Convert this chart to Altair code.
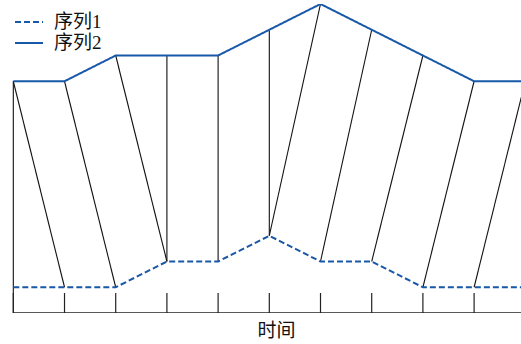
import altair as alt
import pandas as pd

# time steps and the two series
steps = list(range(11))
series1 = [1, 1, 1, 2, 2, 3, 2, 2, 1, 1, 1]
series2 = [9, 9, 10, 10, 10, 11, 12, 11, 10, 9, 9]
names = ["序列1", "序列2"]

# alignment path: (index in 序列2, index in 序列1)
path = [(0, 1), (1, 2), (2, 3), (3, 3), (4, 4), (5, 5),
        (6, 5), (7, 6), (8, 7), (9, 8), (10, 9)]

BLUE = "#1858a8"
FONT = "Liberation Serif, Noto Sans CJK SC"

lines = pd.DataFrame(
    [{"x": t, "v": v, "s": names[0]} for t, v in zip(steps, series1)]
    + [{"x": t, "v": v, "s": names[1]} for t, v in zip(steps, series2)]
)
links = pd.DataFrame(
    [{"x": j, "v": series2[j], "x2": i, "v2": series1[i]} for j, i in path]
    + [{"x": 0, "v": series2[0], "x2": 0, "v2": 0}]
)
ticks = pd.DataFrame({"x": steps, "v": [0] * len(steps)})
base = pd.DataFrame({"x": [steps[0]], "x2": [steps[-1]], "v": [0]})

xs = alt.Scale(domain=[-0.26, 9.916], nice=False, zero=False)
ys = alt.Scale(domain=[0, 12], nice=False, zero=False)
xaxis = alt.Axis(domain=False, ticks=False, labels=False, grid=False,
                 title="时间", titleFont=FONT, titleFontSize=19,
                 titleFontWeight="normal", titleColor="#111",
                 titleX=276, titleY=23, titleBaseline="alphabetic",
                 titleAnchor="middle", titleAlign="center")
X = alt.X("x:Q", scale=xs, axis=xaxis)
Y = alt.Y("v:Q", scale=ys, axis=None)

legend = alt.Legend(title=None, orient="none", legendX=14, legendY=7.5,
                    symbolType="stroke", symbolSize=784,
                    symbolStrokeWidth=2, clipHeight=21,
                    rowPadding=0, padding=0, labelOffset=10,
                    labelFont=FONT, labelFontSize=19, labelColor="#111")

link_layer = alt.Chart(links).mark_rule(color="#111", strokeWidth=1.1, clip=True).encode(
    x=X, x2="x2:Q", y=Y, y2="v2:Q"
)
base_layer = alt.Chart(base).mark_rule(color="#222", strokeWidth=1.3, clip=True).encode(
    x=X, x2="x2:Q", y=Y
)
tick_layer = alt.Chart(ticks).mark_rule(color="#222", strokeWidth=1.2, clip=True).encode(
    x=X, y=Y, y2=alt.value(289)
)
line_layer = alt.Chart(lines).mark_line(strokeWidth=2, clip=True).encode(
    x=X, y=Y,
    color=alt.Color("s:N", scale=alt.Scale(domain=names, range=[BLUE, BLUE]), legend=legend),
    strokeDash=alt.StrokeDash("s:N", scale=alt.Scale(domain=names, range=[[6, 3], [1, 0]]),
                              legend=legend),
    detail="s:N",
)

chart = alt.layer(link_layer, base_layer, tick_layer, line_layer).properties(
    width=521, height=309,
    autosize=alt.AutoSizeParams(type="none"),
    padding={"left": 0, "right": 0, "top": 4, "bottom": 31},
    background="white",
).configure_view(stroke=None)

chart.save("out.html", embed_options={"renderer": "svg", "actions": False})
